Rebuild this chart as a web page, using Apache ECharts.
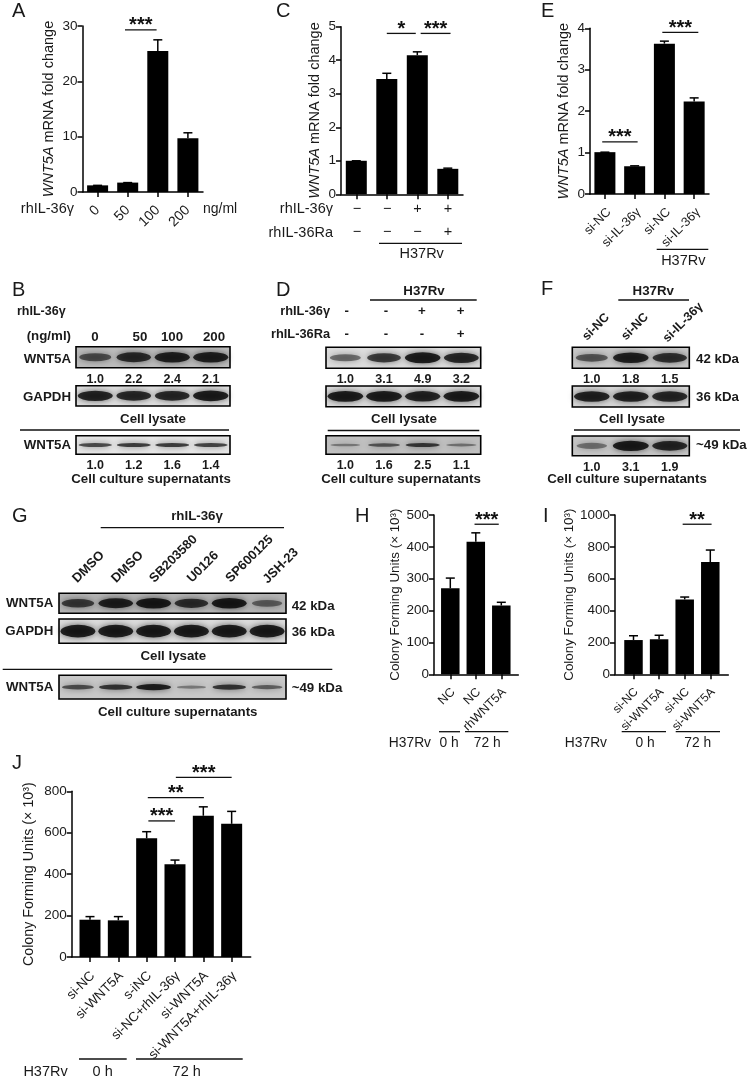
<!DOCTYPE html>
<html>
<head>
<meta charset="utf-8">
<style>
  html, body { margin: 0; padding: 0; background: #fff; }
  #chart { width: 750px; height: 1080px; }
</style>
<script src="https://cdn.jsdelivr.net/npm/echarts@6/dist/echarts.min.js"></script>
</head>
<body>
<div id="chart"></div>
<script>
// bar panels: mean and top of the error bar
const catsA = ['0', '50', '100', '200']
const valsA = [1.2, 1.7, 25.5, 9.7]
const topsA = [1.2, 1.7, 27.5, 10.7]
const sigA = [[0.91, 1.96, 29.3, '***']]

const catsC = ['a', 'b', 'c', 'd']
const valsC = [1.0, 3.44, 4.15, 0.76]
const topsC = [1.0, 3.61, 4.25, 0.78]
const sigC = [[1.0, 1.95, 4.8, '*'], [2.11, 3.09, 4.8, '***']]

const catsE = ['si-NC', 'si-IL-36γ', 'si-NC', 'si-IL-36γ']
const valsE = [1.01, 0.67, 3.63, 2.23]
const topsE = [1.01, 0.68, 3.69, 2.32]
const sigE = [[-0.09, 1.1, 1.26, '***'], [1.93, 3.14, 3.9, '***']]

const catsH = ['NC', 'NC', 'rhWNT5A']
const valsH = [270, 416, 216]
const topsH = [302, 444, 226]
const sigH = [[0.95, 1.9, 471, '***']]

const catsI = ['si-NC', 'si-WNT5A', 'si-NC', 'si-WNT5A']
const valsI = [215, 220, 470, 705]
const topsI = [242, 245, 485, 780]
const sigI = [[1.92, 3.05, 942, '**']]

const catsJ = ['si-NC', 'si-WNT5A', 's-iNC', 'si-NC+rhIL-36γ', 'si-WNT5A', 'si-WNT5A+rhIL-36γ']
const valsJ = [180, 177, 573, 448, 682, 643]
const topsJ = [195, 195, 605, 468, 725, 703]
const sigJ = [[2.06, 3.0, 657, '***'], [2.04, 4.02, 769, '**'], [3.03, 5.0, 867, '***']]

// blots: band strength per lane (0-1), read by eye, and printed densitometry
const bandB1 = [0.55, 0.85, 0.95, 0.95]
const bandB2 = [0.95, 0.9, 0.9, 1.0]
const bandB3 = [0.7, 0.8, 0.8, 0.75]
const bandD1 = [0.4, 0.75, 1.0, 0.9]
const bandD2 = [1.0, 1.0, 0.95, 1.0]
const bandD3 = [0.25, 0.55, 0.8, 0.3]
const bandF1 = [0.5, 0.95, 0.8]
const bandF2 = [0.95, 0.95, 0.9]
const bandF3 = [0.3, 1.0, 0.9]
const bandG1 = [0.7, 0.95, 1.0, 0.8, 1.0, 0.4]
const bandG2 = [1.0, 1.0, 1.0, 1.0, 1.0, 1.0]
const bandG3 = [0.6, 0.8, 1.0, 0.25, 0.8, 0.45]

const densB1 = ['1.0', '2.2', '2.4', '2.1']
const densB3 = ['1.0', '1.2', '1.6', '1.4']
const densD1 = ['1.0', '3.1', '4.9', '3.2']
const densD3 = ['1.0', '1.6', '2.5', '1.1']
const densF1 = ['1.0', '1.8', '1.5']
const densF3 = ['1.0', '3.1', '1.9']

const FONT = 'Liberation Sans'
const INK = '#1a1a1a'
const grids = []
const xAxes = []
const yAxes = []
const series = []
const graphics = []

function txt(text, x, y, opt) {
  const o = opt || {}
  graphics.push({
    type: 'text',
    x: x,
    y: y,
    rotation: (o.rotate || 0) * Math.PI / 180,
    silent: true,
    style: {
      text: text,
      fill: INK,
      align: o.align || 'center',
      verticalAlign: 'middle',
      fontFamily: FONT,
      fontSize: o.size || 14.5,
      fontWeight: o.bold ? 'bold' : 'normal'
    }
  })
}

function bold(text, x, y, opt) {
  txt(text, x, y, Object.assign({ bold: true, size: 13.3 }, opt || {}))
}

function rule(x1, x2, y) {
  graphics.push({
    type: 'line',
    silent: true,
    shape: { x1: x1, y1: y, x2: x2, y2: y },
    style: { stroke: '#111', lineWidth: 1.3 }
  })
}

function barPanel(c) {
  const i = grids.length
  const ticks = c.cats.map((_, k) => k)
  const nameSize = c.nameSize || 14.5
  grids.push({ left: c.left, top: c.top, width: c.right - c.left, height: c.bottom - c.top })
  xAxes.push({
    type: 'value',
    gridIndex: i,
    min: (c.left - c.first) / c.step,
    max: (c.right - c.first) / c.step,
    splitLine: { show: false },
    axisLine: { lineStyle: { color: '#000', width: 1.5 } },
    axisTick: { customValues: ticks, length: 5, lineStyle: { color: '#000', width: 1.5 } },
    axisLabel: {
      show: !c.noLabels,
      customValues: ticks,
      formatter: v => c.cats[v],
      rotate: 45,
      verticalAlign: c.labelAlign || 'top',
      lineHeight: c.labelLine,
      margin: c.labelMargin || 11,
      fontFamily: FONT,
      fontSize: c.labelSize || 13,
      color: INK
    }
  })
  yAxes.push({
    type: 'value',
    gridIndex: i,
    min: 0,
    max: c.yMax,
    interval: c.yStep,
    name: c.name,
    nameLocation: 'middle',
    nameGap: c.nameGap,
    nameTextStyle: {
      fontFamily: FONT,
      fontSize: nameSize,
      color: INK,
      rich: { i: { fontFamily: FONT, fontSize: nameSize, fontStyle: 'italic', color: INK } }
    },
    splitLine: { show: false },
    axisLine: { show: true, onZero: false, lineStyle: { color: '#000', width: 1.5 } },
    axisTick: { show: true, length: 5, lineStyle: { color: '#000', width: 1.5 } },
    axisLabel: { margin: 5, formatter: v => String(v), fontFamily: FONT, fontSize: 13.5, color: INK }
  })
  series.push({
    type: 'bar',
    xAxisIndex: i,
    yAxisIndex: i,
    barWidth: c.barWidth,
    itemStyle: { color: '#000' },
    silent: true,
    data: c.vals.map((v, k) => [k, v])
  })
  series.push({
    type: 'custom',
    xAxisIndex: i,
    yAxisIndex: i,
    silent: true,
    data: c.vals.map((v, k) => [k, v, c.tops[k]]),
    renderItem: (params, api) => {
      const a = api.coord([api.value(0), api.value(1)])
      const b = api.coord([api.value(0), api.value(2)])
      const style = { stroke: '#000', lineWidth: 1.5, fill: 'none' }
      return {
        type: 'group',
        children: [
          { type: 'line', shape: { x1: a[0], y1: a[1], x2: b[0], y2: b[1] }, style: style },
          { type: 'line', shape: { x1: b[0] - 4.5, y1: b[1], x2: b[0] + 4.5, y2: b[1] }, style: style }
        ]
      }
    }
  })
  series.push({
    type: 'custom',
    xAxisIndex: i,
    yAxisIndex: i,
    silent: true,
    clip: false,
    data: c.sig.map(s => [s[0], s[2], s[1]]),
    renderItem: (params, api) => {
      const a = api.coord([api.value(0), api.value(1)])
      const b = api.coord([api.value(2), api.value(1)])
      return {
        type: 'group',
        children: [
          { type: 'line', shape: { x1: a[0], y1: a[1], x2: b[0], y2: b[1] }, style: { stroke: '#111', lineWidth: 1.3 } },
          {
            type: 'text',
            x: (a[0] + b[0]) / 2,
            y: a[1] + 6,
            style: {
              text: c.sig[params.dataIndex][3],
              align: 'center',
              verticalAlign: 'bottom',
              fill: '#111',
              fontFamily: FONT,
              fontSize: 20,
              fontWeight: 'bold'
            }
          }
        ]
      }
    }
  })
}

// one blot strip: a framed grid, lanes on a category axis
function blot(c) {
  const i = grids.length
  const w = c.right - c.left
  const h = c.bottom - c.top
  const lane = w / c.bands.length
  grids.push({
    show: true,
    left: c.left,
    top: c.top,
    width: w,
    height: h,
    backgroundColor: c.bg,
    borderColor: '#000',
    borderWidth: 1.6
  })
  xAxes.push({
    type: 'category',
    gridIndex: i,
    data: c.dens || c.bands.map(String),
    axisLine: { show: false },
    axisTick: { show: false },
    splitLine: { show: false },
    axisLabel: {
      show: !!c.dens,
      margin: 5,
      fontFamily: FONT,
      fontWeight: 'bold',
      fontSize: 12.5,
      color: INK
    }
  })
  yAxes.push({ type: 'value', gridIndex: i, min: 0, max: 1, show: false })
  series.push({
    type: 'scatter',
    xAxisIndex: i,
    yAxisIndex: i,
    silent: true,
    clip: true,
    symbol: 'circle',
    data: c.bands.map((s, k) => [k, 0.5, s]),
    symbolSize: d => [lane * (0.72 + 0.2 * d[2]), h * (c.thin ? 0.1 + 0.16 * d[2] : 0.22 + 0.3 * d[2])],
    itemStyle: {
      color: p => 'rgba(0,0,0,' + (0.25 + 0.75 * p.data[2]) + ')',
      shadowColor: 'rgba(0,0,0,0.7)',
      shadowBlur: 6
    }
  })
}

// --- panel A
barPanel({ cats: catsA, vals: valsA, tops: topsA, sig: sigA, labelAlign: 'middle', labelMargin: 16, left: 82.5, right: 203, top: 26, bottom: 192, first: 97.6, step: 30.1, barWidth: 21, yMax: 30, yStep: 10, labelSize: 14, name: '{i|WNT5A} mRNA fold change', nameGap: 26 })
txt('rhIL-36γ', 74, 209, { align: 'right' })
txt('ng/ml', 203, 209, { align: 'left', size: 14 })

// --- panel C
barPanel({ cats: catsC, vals: valsC, tops: topsC, sig: sigC, noLabels: true, left: 341, right: 463, top: 26.7, bottom: 194.3, first: 356.3, step: 30.5, barWidth: 21, yMax: 5, yStep: 1, name: '{i|WNT5A} mRNA fold change', nameGap: 19 })
txt('rhIL-36γ', 333, 209, { align: 'right' })
txt('rhIL-36Ra', 333, 233, { align: 'right' })
;['−', '−', '+', '+'].forEach((s, k) => txt(s, 357 + k * 30.3, 209))
;['−', '−', '−', '+'].forEach((s, k) => txt(s, 357 + k * 30.3, 232))
rule(379, 462, 243.3)
txt('H37Rv', 421.7, 253.5)

// --- panel E
barPanel({ cats: catsE, vals: valsE, tops: topsE, sig: sigE, labelLine: 12, labelMargin: 12, left: 590, right: 709, top: 28.3, bottom: 194, first: 604.9, step: 29.75, barWidth: 21, yMax: 4, yStep: 1, labelSize: 12.8, name: '{i|WNT5A} mRNA fold change', nameGap: 19 })
rule(656.7, 708.3, 249.3)
txt('H37Rv', 683.3, 261)

// --- panel H
barPanel({ cats: catsH, vals: valsH, tops: topsH, sig: sigH, labelLine: 8, labelMargin: 13, left: 434, right: 518.3, top: 515, bottom: 674.3, first: 450.3, step: 25.5, barWidth: 18.5, yMax: 500, yStep: 100, labelSize: 12.5, nameSize: 13.4, name: 'Colony Forming Units (× 10³)', nameGap: 32 })
txt('H37Rv', 431, 743, { align: 'right', size: 13.8 })
rule(439, 460, 731.7)
rule(465, 508.3, 731.7)
txt('0 h', 449, 743, { size: 13.8 })
txt('72 h', 487.3, 743, { size: 13.8 })

// --- panel I
barPanel({ cats: catsI, vals: valsI, tops: topsI, sig: sigI, labelLine: 8, labelMargin: 13, left: 615, right: 728.3, top: 515, bottom: 674.3, first: 633.5, step: 25.6, barWidth: 18.5, yMax: 1000, yStep: 200, labelSize: 12, nameSize: 13.4, name: 'Colony Forming Units (× 10³)', nameGap: 35 })
txt('H37Rv', 607, 743, { align: 'right', size: 13.8 })
rule(621.7, 666, 731.7)
rule(675.7, 720, 731.7)
txt('0 h', 645, 743, { size: 13.8 })
txt('72 h', 697.7, 743, { size: 13.8 })

// --- panel J
barPanel({ cats: catsJ, vals: valsJ, tops: topsJ, sig: sigJ, labelLine: 8, labelMargin: 14, left: 71.7, right: 250.7, top: 791.3, bottom: 957, first: 90, step: 28.33, barWidth: 21, yMax: 800, yStep: 200, labelSize: 13.4, nameSize: 14.3, name: 'Colony Forming Units (× 10³)', nameGap: 36 })
txt('H37Rv', 67.7, 1071.5, { align: 'right' })
rule(79, 126.7, 1059)
rule(136, 242.7, 1059)
txt('0 h', 102.7, 1071.5)
txt('72 h', 186.7, 1071.5)

// --- panel B
blot({ bands: bandB1, dens: densB1, left: 76, right: 230, top: 346.7, bottom: 367.7, bg: '#bcbcbc' })
blot({ bands: bandB2, left: 76, right: 230, top: 385.7, bottom: 406, bg: '#dedede' })
blot({ bands: bandB3, dens: densB3, thin: true, left: 76, right: 230, top: 435.7, bottom: 454.3, bg: '#e6e6e6' })
bold('rhIL-36γ', 17, 312, { align: 'left', size: 12.5 })
bold('(ng/ml)', 71, 336, { align: 'right' })
;['0', '50', '100', '200'].forEach((s, k) => bold(s, [95, 140, 172, 214][k], 337.5))
bold('WNT5A', 71, 359, { align: 'right' })
bold('GAPDH', 71, 397, { align: 'right' })
bold('Cell lysate', 153, 419)
rule(20, 229, 430)
bold('WNT5A', 71, 445, { align: 'right' })
bold('Cell culture supernatants', 151, 479)

// --- panel D
blot({ bands: bandD1, dens: densD1, left: 326, right: 480.7, top: 347.3, bottom: 368.3, bg: '#dcdcdc' })
blot({ bands: bandD2, left: 326, right: 480.7, top: 386, bottom: 406.7, bg: '#dadada' })
blot({ bands: bandD3, dens: densD3, thin: true, left: 326, right: 480.7, top: 435.7, bottom: 454.3, bg: '#c0c0c0' })
bold('H37Rv', 424, 291.7)
rule(370, 476.7, 300)
bold('rhIL-36γ', 330, 311.7, { align: 'right', size: 12.8 })
bold('rhIL-36Ra', 330, 334, { align: 'right', size: 12.8 })
;['-', '-', '+', '+'].forEach((s, k) => bold(s, [346.7, 386, 422, 460.7][k], 311.7))
;['-', '-', '-', '+'].forEach((s, k) => bold(s, [346.7, 386, 422, 460.7][k], 334))
bold('Cell lysate', 404, 419)
rule(327.7, 479.3, 430.5)
bold('Cell culture supernatants', 401, 479)

// --- panel F
blot({ bands: bandF1, dens: densF1, left: 572.3, right: 689.3, top: 347.3, bottom: 368.3, bg: '#c8c8c8' })
blot({ bands: bandF2, left: 572.3, right: 689.3, top: 386, bottom: 407, bg: '#d6d6d6' })
blot({ bands: bandF3, dens: densF3, left: 572.3, right: 689.3, top: 436, bottom: 455.7, bg: '#c6c6c6' })
bold('H37Rv', 653.3, 291.7)
rule(618.3, 689, 300)
bold('si-NC', 596, 327, { rotate: 45, size: 12.5 })
bold('si-NC', 635, 326.7, { rotate: 45, size: 12.5 })
bold('si-IL-36γ', 683, 322.5, { rotate: 45, size: 12.5 })
bold('42 kDa', 696, 359, { align: 'left' })
bold('36 kDa', 696, 397.3, { align: 'left' })
bold('~49 kDa', 696, 445.7, { align: 'left' })
bold('Cell lysate', 632, 419)
rule(574, 740, 430)
bold('Cell culture supernatants', 627, 479)

// --- panel G
blot({ bands: bandG1, left: 59, right: 286, top: 593.3, bottom: 613.3, bg: '#b4b4b4' })
blot({ bands: bandG2, left: 59, right: 286, top: 619, bottom: 643.3, bg: '#dcdcdc' })
blot({ bands: bandG3, thin: true, left: 59, right: 286, top: 675.3, bottom: 699, bg: '#c8c8c8' })
bold('rhIL-36γ', 197, 516.7)
rule(100.7, 284, 527.7)
bold('DMSO', 88.5, 567, { rotate: 45, size: 13 })
bold('DMSO', 127.5, 567, { rotate: 45, size: 13 })
bold('SB203580', 173.5, 559, { rotate: 45, size: 13 })
bold('U0126', 203, 567, { rotate: 45, size: 13 })
bold('SP600125', 249.5, 559, { rotate: 45, size: 13 })
bold('JSH-23', 280.8, 566, { rotate: 45, size: 13 })
bold('WNT5A', 53.3, 603.3, { align: 'right' })
bold('GAPDH', 53.3, 631.7, { align: 'right' })
bold('42 kDa', 291.7, 606.7, { align: 'left' })
bold('36 kDa', 291.7, 632.3, { align: 'left' })
bold('Cell lysate', 173.3, 656.7)
rule(2.7, 332.3, 669.3)
bold('WNT5A', 53.3, 687.7, { align: 'right' })
bold('~49 kDa', 291.7, 688.3, { align: 'left' })
bold('Cell culture supernatants', 177.7, 712.3)

// panel letters
;[['A', 12, 11], ['C', 276, 11], ['E', 541, 11], ['B', 12, 290], ['D', 276, 290], ['F', 541, 289],
  ['G', 12, 516.7], ['H', 355, 516], ['I', 543, 516], ['J', 12, 763]].forEach(l => {
  txt(l[0], l[1], l[2], { align: 'left', size: 20 })
})

const chart = echarts.init(document.getElementById('chart'))
chart.setOption({
  animation: false,
  backgroundColor: '#fff',
  grid: grids,
  xAxis: xAxes,
  yAxis: yAxes,
  series: series,
  graphic: { elements: graphics }
})
</script>
</body>
</html>
